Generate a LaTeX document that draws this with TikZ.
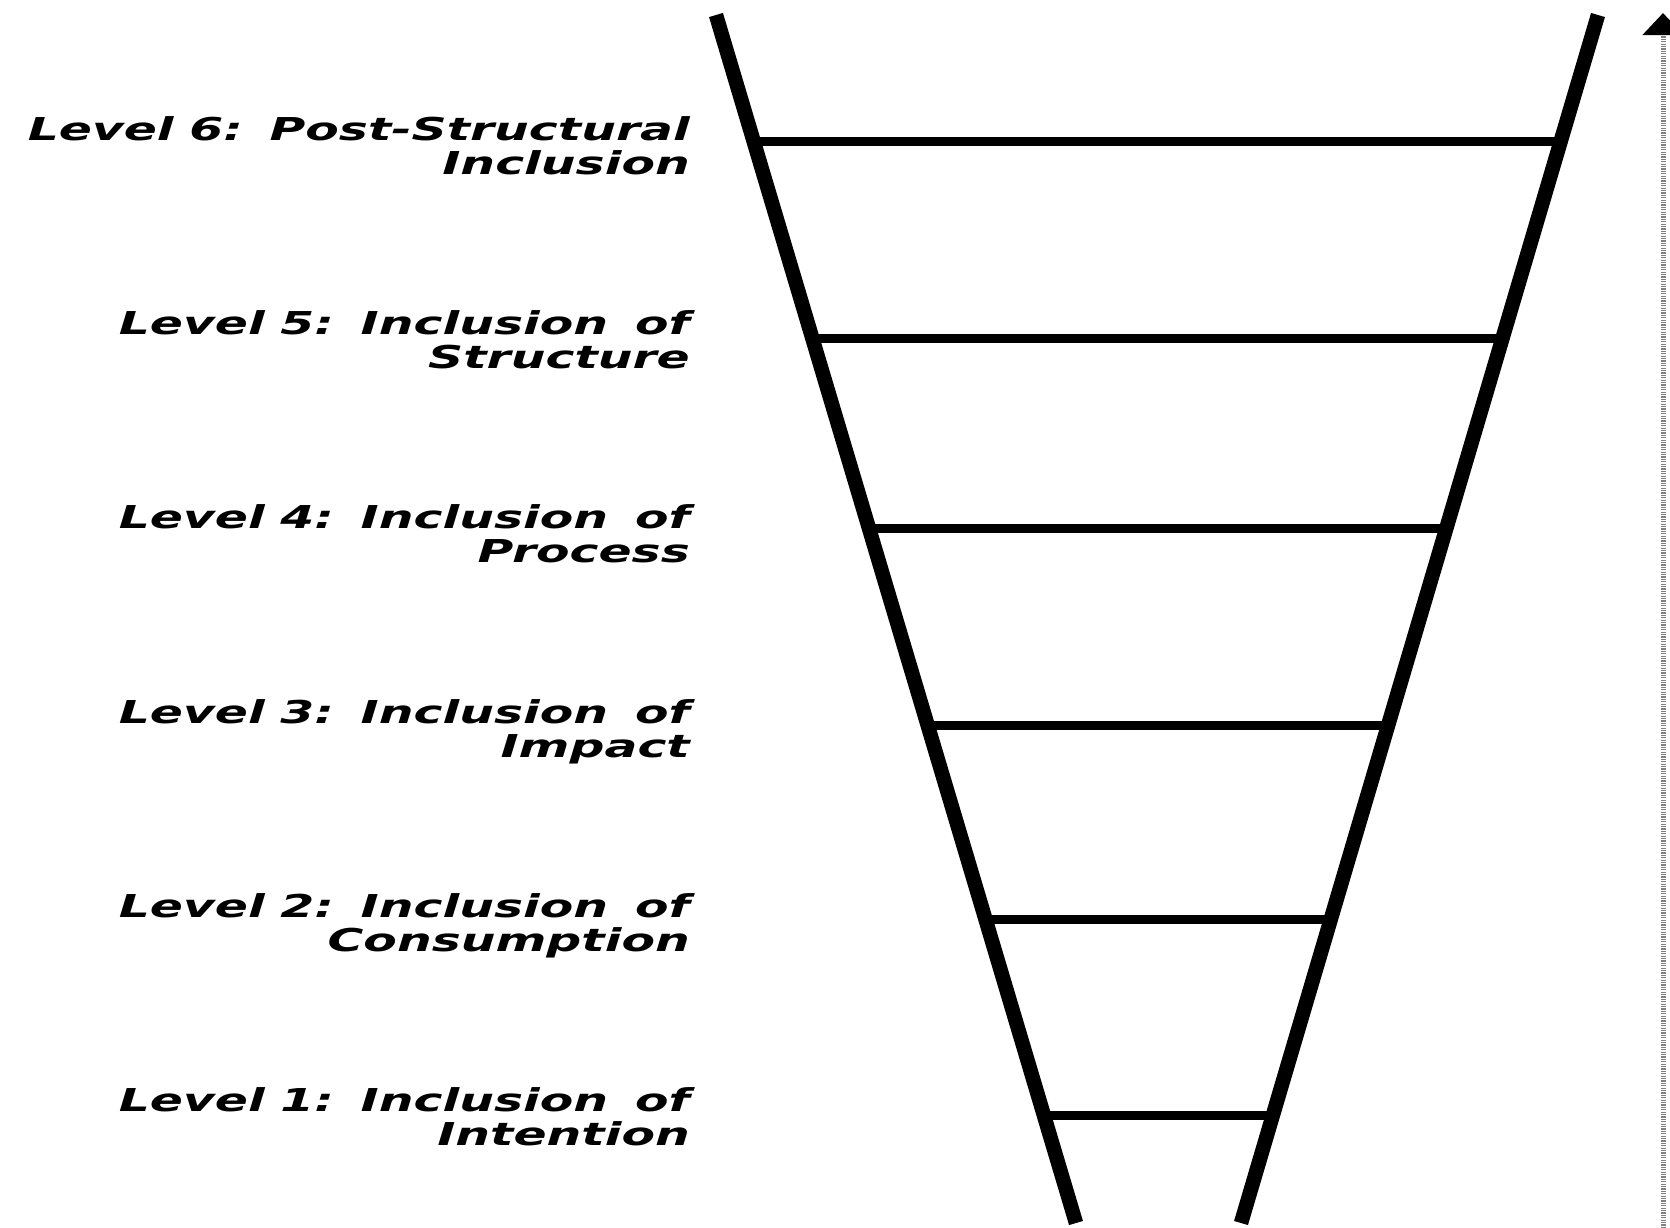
\documentclass[tikz,border=0pt]{standalone}
\usepackage{fontspec}
\usepackage{graphicx}
\setmainfont{DejaVu Sans}
\usetikzlibrary{arrows.meta,calc}
\newcommand{\lvltext}[2]{\scalebox{1.55}[1]{\fontsize{31.5}{34}\selectfont\bfseries\itshape\frenchspacing\spaceskip=17.3pt\relax\begin{tabular}{@{}r@{}}#1\\#2\end{tabular}}}
\newcommand{\lvnum}[1]{Level\hspace{0.32em}#1:}
\begin{document}
\begin{tikzpicture}[x=1pt,y=-1pt,
  side/.style={line width=14.5pt},
  rung/.style={line width=9pt},
  lvl/.style={anchor=east,inner sep=0pt},
  scalearrow/.style={line width=5pt,draw=black!50,dash pattern=on 1.2pt off 1.2pt,
    -{Triangle[width=40pt,length=22pt,color=black]}}]
\useasboundingbox (0,0) rectangle (1670,1227);
\coordinate (Ltop) at (716,15);
\coordinate (Lbot) at (1076,1223);
\coordinate (Rtop) at (1598,15);
\coordinate (Rbot) at (1241,1223);
\draw[side] (Ltop) -- (Lbot);
\draw[side] (Rtop) -- (Rbot);
\foreach \n/\yy in {6/142,5/338,4/528,3/725,2/919,1/1115}{
  \pgfmathsetmacro{\f}{(\yy-15)/1208}
  \coordinate (a\n) at ($(Ltop)!\f!(Lbot)$);
  \coordinate (b\n) at ($(Rtop)!\f!(Rbot)$);
  \draw[rung] (a\n) -- (b\n);
}
\node[lvl] (t6) at (690,151) {\lvltext{\lvnum{6} Post-Structural}{Inclusion}};
\node[lvl] (t5) at (690,345) {\lvltext{\lvnum{5} Inclusion of}{Structure}};
\node[lvl] (t4) at (690,539) {\lvltext{\lvnum{4} Inclusion of}{Process}};
\node[lvl] (t3) at (690,734) {\lvltext{\lvnum{3} Inclusion of}{Impact}};
\node[lvl] (t2) at (690,928) {\lvltext{\lvnum{2} Inclusion of}{Consumption}};
\node[lvl] (t1) at (690,1122) {\lvltext{\lvnum{1} Inclusion of}{Intention}};
\coordinate (arrBot) at (1663,1240);
\coordinate (arrTop) at (1663,13);
\draw[scalearrow] (arrBot) -- (arrTop);
\end{tikzpicture}
\end{document}
